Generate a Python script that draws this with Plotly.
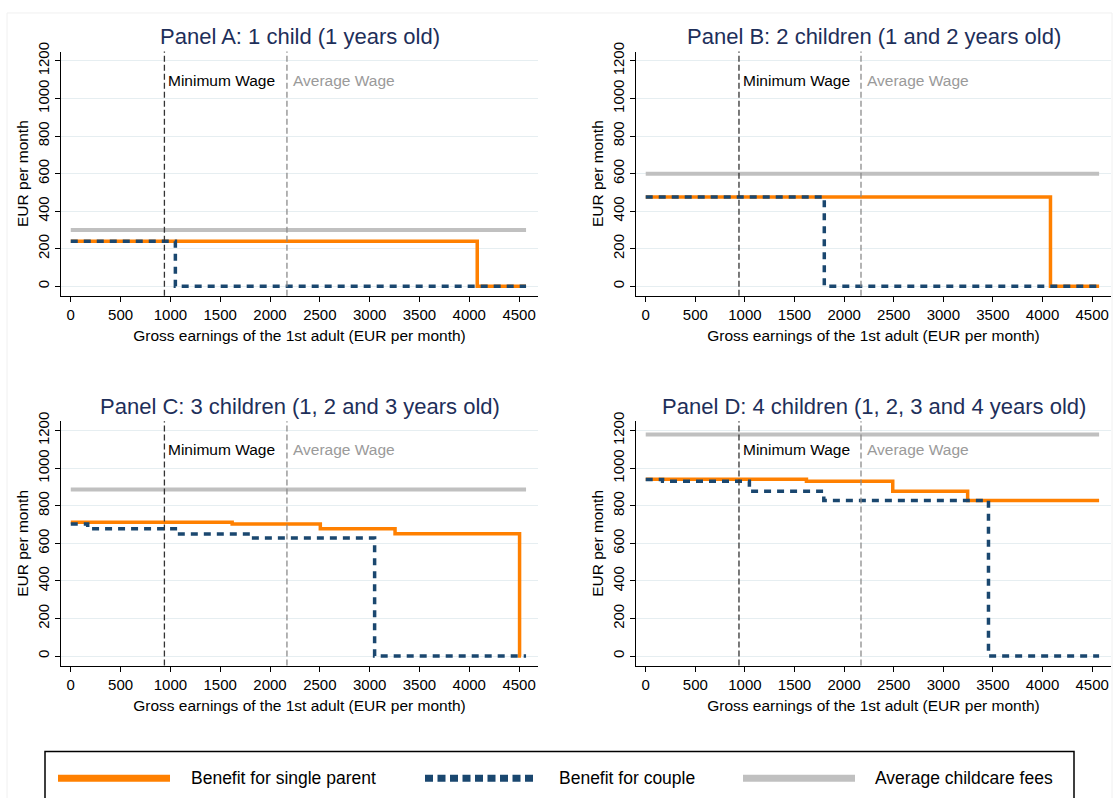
import plotly.graph_objects as go

# ---------------- data ----------------
panel_titles = [
    "Panel A: 1 child (1 years old)",
    "Panel B: 2 children (1 and 2 years old)",
    "Panel C: 3 children (1, 2 and 3 years old)",
    "Panel D: 4 children (1, 2, 3 and 4 years old)",
]
min_wage = 940
avg_wage = 2170
x_end = 4570

fees_x = [0, x_end]
fees_y = [300, 600, 887, 1180]

single_x_A = [0, 4080, x_end]
single_y_A = [240, 0, 0]
couple_x_A = [0, 1050, x_end]
couple_y_A = [240, 0, 0]

single_x_B = [0, 4080, x_end]
single_y_B = [476, 0, 0]
couple_x_B = [0, 1800, x_end]
couple_y_B = [476, 0, 0]

single_x_C = [0, 1620, 2505, 3255, 4505, 4520]
single_y_C = [712, 703, 678, 652, 0, 0]
couple_x_C = [0, 170, 1050, 1810, 3050, x_end]
couple_y_C = [703, 678, 650, 629, 0, 0]

single_x_D = [0, 1620, 2490, 3245, x_end]
single_y_D = [942, 931, 878, 829, 829]
couple_x_D = [0, 170, 1045, 1795, 3455, x_end]
couple_y_D = [940, 931, 878, 829, 0, 0]

x_ticks = [0, 500, 1000, 1500, 2000, 2500, 3000, 3500, 4000, 4500]
y_ticks = [0, 200, 400, 600, 800, 1000, 1200]
legend_labels = ["Benefit for single parent", "Benefit for couple", "Average childcare fees"]

single_xs = [single_x_A, single_x_B, single_x_C, single_x_D]
single_ys = [single_y_A, single_y_B, single_y_C, single_y_D]
couple_xs = [couple_x_A, couple_x_B, couple_x_C, couple_x_D]
couple_ys = [couple_y_A, couple_y_B, couple_y_C, couple_y_D]

# ---------------- style ----------------
W, H = 1113, 798
ORANGE = "#ff8000"
NAVY = "#1a476f"
SILVER = "#c0c0c0"
TITLE_COLOR = "#1e2f5a"
GRID = "#e6eef1"
FONT = "Liberation Sans, Arial, sans-serif"

# pixel boxes: (left, right, top, bottom)
boxes = [
    (61, 538, 43, 290),
    (636, 1111, 43, 290),
    (61, 538, 417, 664),
    (636, 1111, 417, 664),
]

fig = go.Figure()
layout = dict(
    width=W, height=H,
    margin=dict(l=0, r=0, t=0, b=0),
    paper_bgcolor="white", plot_bgcolor="white",
    font=dict(family=FONT, size=14, color="black"),
    showlegend=False,
    shapes=[], annotations=[],
)

# faint outer border of the graph region
layout["shapes"].append(dict(type="rect", xref="paper", yref="paper", x0=7 / W, x1=1112 / W,
                             y0=-0.05, y1=1 - 4 / H, line=dict(color="#f0f0f0", width=1),
                             fillcolor="rgba(0,0,0,0)", layer="below"))

for i in range(4):
    n = "" if i == 0 else str(i + 1)
    xa, ya = "x" + n, "y" + n
    l, r, t, b = boxes[i]
    layout["xaxis" + n] = dict(
        domain=[l / W, r / W], anchor=ya, range=[-98, 4690],
        tickvals=x_ticks, ticks="outside", ticklen=5, tickcolor="black",
        showline=True, linecolor="black", linewidth=1, showgrid=False, zeroline=False,
        tickfont=dict(size=15),
        title=dict(text="Gross earnings of the 1st adult (EUR per month)", font=dict(size=15.5), standoff=8),
    )
    layout["yaxis" + n] = dict(
        domain=[1 - b / H, 1 - t / H], anchor=xa, range=[-50, 1250],
        tickvals=y_ticks, ticks="outside", ticklen=5, tickcolor="black", tickangle=-90,
        showline=True, linecolor="black", linewidth=1, showgrid=True, gridcolor=GRID, gridwidth=1,
        zeroline=False, tickfont=dict(size=15),
        title=dict(text="EUR per month", font=dict(size=15.5), standoff=2),
    )
    # traces
    fig.add_trace(go.Scatter(x=fees_x, y=[fees_y[i], fees_y[i]], mode="lines", xaxis=xa, yaxis=ya,
                             line=dict(color=SILVER, width=4), name=legend_labels[2], hoverinfo="skip"))
    fig.add_trace(go.Scatter(x=single_xs[i], y=single_ys[i], mode="lines", xaxis=xa, yaxis=ya,
                             line=dict(color=ORANGE, width=3.5, shape="hv"), name=legend_labels[0]))
    fig.add_trace(go.Scatter(x=couple_xs[i], y=couple_ys[i], mode="lines", xaxis=xa, yaxis=ya,
                             line=dict(color=NAVY, width=3.5, shape="hv", dash="7px,6px"), name=legend_labels[1]))
    # reference vertical lines
    layout["shapes"].append(dict(type="line", xref=xa, yref=ya + " domain", x0=min_wage, x1=min_wage,
                                 y0=0, y1=1, line=dict(color="#333333", width=1.3, dash="6px,3px")))
    layout["shapes"].append(dict(type="line", xref=xa, yref=ya + " domain", x0=avg_wage, x1=avg_wage,
                                 y0=0, y1=1, line=dict(color="#8c8c8c", width=1.3, dash="6px,3px")))
    layout["annotations"].append(dict(x=min_wage, y=1098, xref=xa, yref=ya, text="Minimum Wage",
                                      showarrow=False, xanchor="left", yanchor="middle", xshift=2,
                                      font=dict(size=15.5, color="black")))
    layout["annotations"].append(dict(x=avg_wage, y=1098, xref=xa, yref=ya, text="Average Wage",
                                      showarrow=False, xanchor="left", yanchor="middle", xshift=4,
                                      font=dict(size=15.5, color="#9a9a9a")))
    # panel title
    layout["annotations"].append(dict(x=(l + r) / 2 / W, y=1 - (t - 15) / H, xref="paper", yref="paper",
                                      text=panel_titles[i], showarrow=False, xanchor="center",
                                      yanchor="middle", font=dict(size=22, color=TITLE_COLOR)))

# ---------------- legend (drawn manually) ----------------
layout["shapes"].append(dict(type="rect", xref="paper", yref="paper", x0=45 / W, x1=1074 / W,
                             y0=-0.02, y1=1 - 751 / H, line=dict(color="black", width=1.5),
                             fillcolor="rgba(0,0,0,0)"))
leg_y = 1 - 778 / H
leg_items = [
    (58, 170, 189, dict(color=ORANGE, width=7)),
    (425, 537, 557, dict(color=NAVY, width=7, dash="8px,4.5px")),
    (743, 855, 873, dict(color=SILVER, width=7)),
]
for (sx0, sx1, tx, ln), lab in zip(leg_items, legend_labels):
    layout["shapes"].append(dict(type="line", xref="paper", yref="paper", x0=sx0 / W, x1=sx1 / W,
                                 y0=leg_y, y1=leg_y, line=ln))
    layout["annotations"].append(dict(x=tx / W, y=leg_y, xref="paper", yref="paper", text=lab,
                                      showarrow=False, xanchor="left", yanchor="middle",
                                      font=dict(size=17.5, color="black")))

fig.update_layout(**layout)
fig.write_html("out.html")
